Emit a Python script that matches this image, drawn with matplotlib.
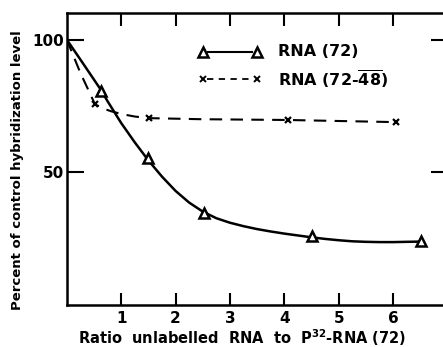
import matplotlib
matplotlib.use("Agg")
import matplotlib.pyplot as plt

plt.rcParams['font.family'] = 'DejaVu Sans'
plt.rcParams['font.weight'] = 'bold'
plt.rcParams['axes.labelweight'] = 'bold'
plt.rcParams['mathtext.fontset'] = 'custom'
plt.rcParams['mathtext.rm'] = 'DejaVu Sans:bold'
plt.rcParams['mathtext.default'] = 'rm'

# measured points
rna72_x = [0.63, 1.5, 2.52, 4.5, 6.52]
rna72_y = [80.5, 55.5, 34.5, 26.0, 24.2]
rna7248_x = [0.52, 1.51, 4.06, 6.05]
rna7248_y = [75.6, 70.3, 69.7, 68.9]

# hand-drawn curves
curve72_x = [0, 0.3, 0.63, 0.75, 1.0, 1.25, 1.5, 1.75, 2.0, 2.25, 2.5, 2.75, 3.0, 3.25, 3.5,
             3.75, 4.0, 4.25, 4.5, 4.75, 5.0, 5.25, 5.5, 5.75, 6.0, 6.25, 6.5]
curve72_y = [100, 91, 81, 76.8, 68.6, 61.3, 54.5, 48.4, 43.0, 38.6, 35.2, 32.7, 31.0, 29.7, 28.6,
             27.7, 26.9, 26.2, 25.5, 24.9, 24.4, 24.0, 23.8, 23.7, 23.7, 23.8, 23.9]
curve7248_x = [0, 0.25, 0.52, 0.7, 0.83, 1.02, 1.25, 1.51, 2.45, 4.06, 6.05]
curve7248_y = [100, 87.5, 75.6, 73.8, 72.9, 71.9, 71.0, 70.4, 70.0, 69.7, 68.9]

fig = plt.figure(figsize=(4.43, 3.47), dpi=100)
ax = fig.add_axes([0.1506, 0.121, 0.8596, 0.8415])

ax.plot(curve72_x, curve72_y, color='black', lw=1.8)
ax.plot(rna72_x, rna72_y, linestyle='none', marker='^', ms=7, mfc='white', mec='black', mew=1.8)
ax.plot(curve7248_x, curve7248_y, color='black', lw=1.5, dashes=(6, 4))
ax.plot(rna7248_x, rna7248_y, linestyle='none', marker='x', ms=5, color='black', mew=1.6)

# legend drawn by hand
ax.plot([2.6, 3.4], [95.4, 95.4], color='black', lw=1.5)
ax.plot([2.51, 3.49], [95.4, 95.4], linestyle='none', marker='^', ms=7, mfc='white', mec='black', mew=1.8)
ax.plot([2.58, 3.42], [85.3, 85.3], color='black', lw=1.3, dashes=(3.5, 3))
ax.plot([2.51, 3.49], [85.3, 85.3], linestyle='none', marker='x', ms=4, color='black', mew=1.4)
ax.text(3.89, 95.4, 'RNA (72)', fontsize=11.5, va='center', ha='left')
ax.text(3.89, 85.3, r'RNA (72-$\overline{48}$)', fontsize=11.5, va='center', ha='left')

ax.set_xlim(0, 7)
ax.set_ylim(0, 110)
ax.set_xticks([1, 2, 3, 4, 5, 6])
ax.set_yticks([50, 100])
ax.tick_params(axis='both', direction='in', width=1.5, labelsize=11)
ax.tick_params(axis='x', length=9, top=True, pad=4)
ax.tick_params(axis='y', length=12, right=True, pad=2)
for s in ax.spines.values():
    s.set_linewidth(1.8)

ax.set_xlabel(r'Ratio  unlabelled  RNA  to  P$^{32}$-RNA (72)', fontsize=10.5, va='center')
ax.xaxis.set_label_coords(0.46, -0.113)
ax.set_ylabel('Percent of control hybridization level', fontsize=9.5, va='center')
ax.yaxis.set_label_coords(-0.128, 0.462)

plt.savefig('out.png', dpi=100)
